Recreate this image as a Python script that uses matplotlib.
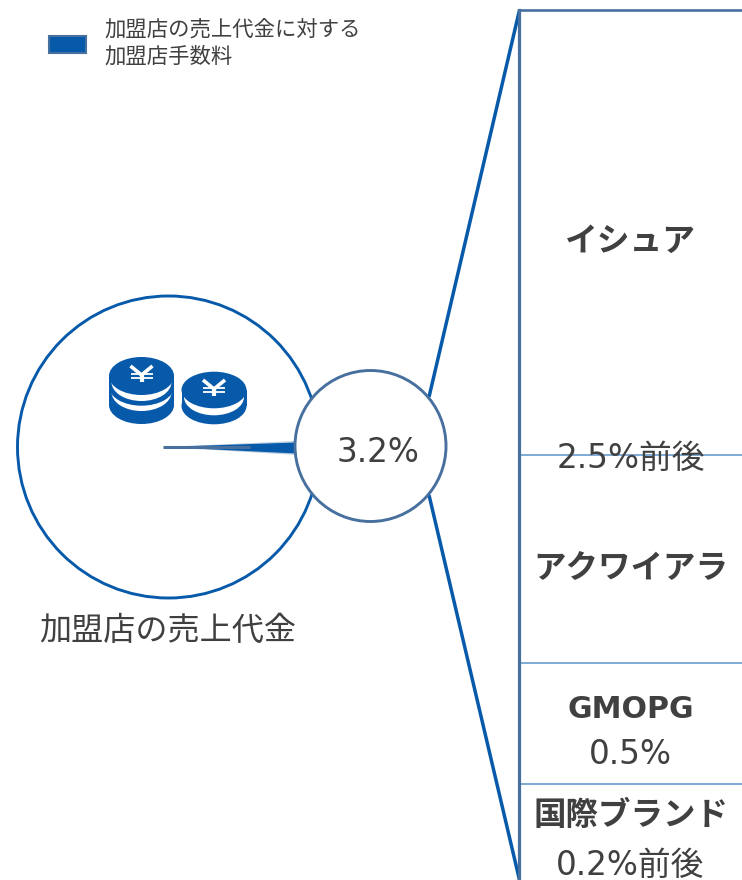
import matplotlib
matplotlib.use("Agg")
import matplotlib.pyplot as plt
from matplotlib.patches import Circle, Ellipse, Polygon, Rectangle

plt.rcParams['font.family'] = ['DejaVu Sans', 'Noto Sans CJK JP']

BLUE = '#075aaa'
STEEL = '#47709f'
THIN = '#5b93c9'
TEXT = '#404040'

total_fee = '3.2%'
base_label = '加盟店の売上代金'
legend_label = '加盟店の売上代金に対する\n加盟店手数料'
parties = ['イシュア', 'アクワイアラ', 'GMOPG', '国際ブランド']
shares = ['2.5%前後', None, '0.5%', '0.2%前後']
segment_heights = [445, 208, 121, 96]

fig = plt.figure(figsize=(7.42, 8.8), dpi=100)
ax = fig.add_axes([0, 0, 1, 1])
ax.set_xlim(0, 742)
ax.set_ylim(880, 0)
ax.axis('off')

# Large circle
ax.add_patch(Circle((168.5, 447), 151, fc='white', ec=BLUE, lw=2.1, zorder=1))

# Leader lines
ax.plot([429, 519.5], [397, 10], color=BLUE, lw=2.5, zorder=2, solid_capstyle='butt')
ax.plot([429, 519.5], [495, 880], color=BLUE, lw=2.5, zorder=2, solid_capstyle='butt')

# Stacked column
top = 10
ax.plot([519, 742], [top, top], color=STEEL, lw=1.9, zorder=3)
ax.plot([519, 519], [top, 880], color=STEEL, lw=2.3, zorder=4)
y = top
for h in segment_heights[:-1]:
    y += h
    ax.plot([519, 742], [y, y], color=THIN, lw=1.1, zorder=3)

# Wedge
ax.add_patch(Polygon([(163, 447), (297, 441), (297, 455)], closed=True, fc='#b9cde0', ec='none', zorder=2))
ax.add_patch(Polygon([(163, 447), (297, 442.5), (297, 453.5)], closed=True, fc=BLUE, ec='none', zorder=2.1))
ax.plot([163, 250], [447.2, 447.2], color=STEEL, lw=2.2, zorder=2.2, solid_capstyle='butt')

# Small circle
ax.add_patch(Circle((370.5, 446), 75.5, fc='white', ec=STEEL, lw=2.1, zorder=5))
ax.text(378, 453, total_fee, fontsize=23.6, color=TEXT, ha='center', va='center', zorder=6)


def yen(cx, cy):
    kw = dict(color='white', zorder=7, solid_capstyle='butt')
    ax.plot([cx - 11, cx, cx + 11], [cy - 10, cy - 1, cy - 10], lw=2.6, **kw)
    ax.plot([cx, cx], [cy - 1, cy + 6], lw=3.0, **kw)
    ax.plot([cx - 11, cx + 11], [cy - 1.8, cy - 1.8], lw=1.3, **kw)
    ax.plot([cx - 11, cx + 11], [cy + 1.8, cy + 1.8], lw=1.3, **kw)


def coin_stack(cx, cys, whites, base_cy, rx, ry):
    ax.add_patch(Ellipse((cx, base_cy), 2 * rx, 2 * ry, fc=BLUE, ec='none', zorder=6))
    ax.add_patch(Rectangle((cx - rx, cys[0]), 2 * rx, base_cy - cys[0], fc=BLUE, ec='none', zorder=6))
    z = 6.1
    for white_cy, blue_cy in zip(whites[::-1], cys[::-1]):
        ax.add_patch(Ellipse((cx, white_cy), 2 * rx - 5, 2 * ry, fc='white', ec='none', zorder=z))
        ax.add_patch(Ellipse((cx, blue_cy), 2 * rx, 2 * ry, fc=BLUE, ec='none', zorder=z + 0.01))
        ax.add_patch(Rectangle((cx - rx, cys[0]), 2 * rx, blue_cy - cys[0], fc=BLUE, ec='none', zorder=z + 0.01))
        z += 0.1
    yen(cx, cys[0])


coin_stack(141.5, [376, 386.7], [382, 392], 405, 32.5, 19)
coin_stack(214, [390], [397], 406, 32.5, 18.3)

# Base label
ax.text(168, 631, base_label, fontsize=23.1, color=TEXT, ha='center', va='center')

# Legend
ax.add_patch(Rectangle((49, 36), 37, 17, fc=BLUE, ec=STEEL, lw=1.5))
ax.text(104, 43, legend_label, fontsize=15.4, color=TEXT, ha='left', va='center', linespacing=1.35)

# Column labels
cx = 630.5
ax.text(cx, 241, parties[0], fontsize=23.6, fontweight='bold', color=TEXT, ha='center', va='center')
ax.text(cx, 458, shares[0], fontsize=23.6, color=TEXT, ha='center', va='center', zorder=6)
ax.text(cx, 570, parties[1], fontsize=23.4, fontweight='bold', color=TEXT, ha='center', va='center')
ax.text(cx, 709, parties[2], fontsize=21.6, fontweight='bold', color=TEXT, ha='center', va='center')
ax.text(cx, 755, shares[2], fontsize=23.6, color=TEXT, ha='center', va='center')
ax.text(cx, 816, parties[3], fontsize=23.4, fontweight='bold', color=TEXT, ha='center', va='center')
ax.text(cx, 865, shares[3], fontsize=23.6, color=TEXT, ha='center', va='center')

fig.savefig('out.png', dpi=100)
